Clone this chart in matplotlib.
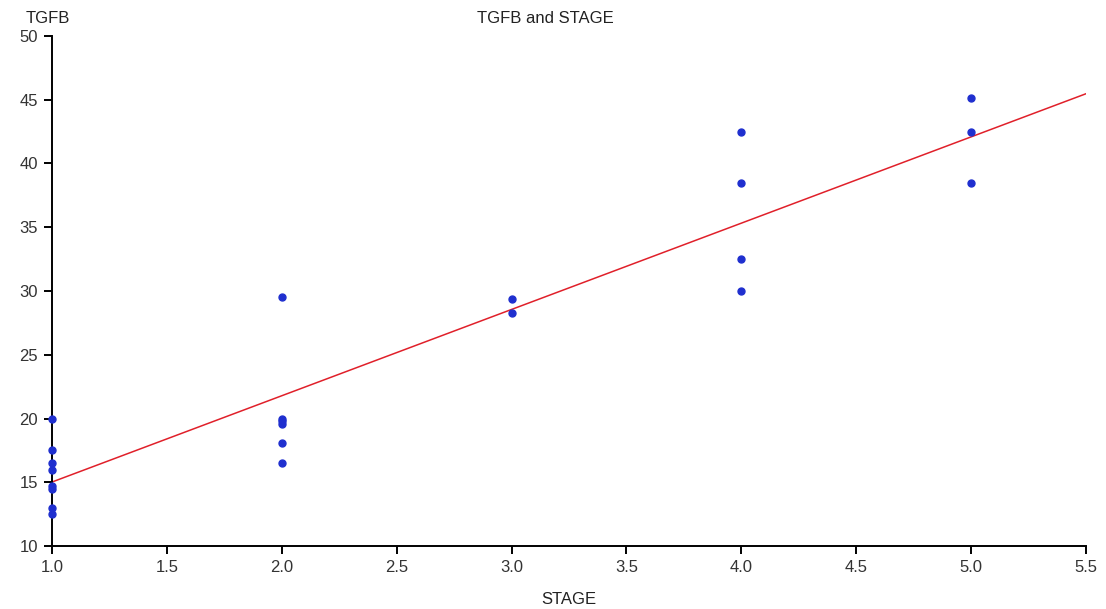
import matplotlib
matplotlib.use('Agg')
import matplotlib.pyplot as plt
import numpy as np

plt.rcParams['font.family'] = ['Liberation Sans', 'DejaVu Sans']

# TGFB readings per tumour stage
stage = [1, 1, 1, 1, 1, 1, 1, 1,
         2, 2, 2, 2, 2, 2,
         3, 3,
         4, 4, 4, 4,
         5, 5, 5]
tgfb = [20.0, 17.5, 16.5, 16.0, 14.7, 14.5, 13.0, 12.5,
        29.5, 20.0, 19.8, 19.6, 18.1, 16.5,
        29.4, 28.3,
        42.5, 38.5, 32.5, 30.0,
        45.1, 42.5, 38.5]

x_ticks = [1.0, 1.5, 2.0, 2.5, 3.0, 3.5, 4.0, 4.5, 5.0, 5.5]
y_ticks = [10, 15, 20, 25, 30, 35, 40, 45, 50]

slope, intercept = np.polyfit(stage, tgfb, 1)
line_x = np.array([x_ticks[0], x_ticks[-1]])

fig = plt.figure(figsize=(11.06, 6.09), dpi=100)
ax = fig.add_axes([0.047, 0.1034, 0.935, 0.8376])

ax.plot(line_x, slope * line_x + intercept, color='#e0202a', linewidth=1.1, zorder=2)
ax.plot(stage, tgfb, 'o', color='#1f2fcf', markersize=5, zorder=3, clip_on=False)

ax.set_xlim(x_ticks[0], x_ticks[-1])
ax.set_ylim(y_ticks[0], y_ticks[-1])
ax.set_xticks(x_ticks)
ax.set_xticklabels([f'{v:.1f}' for v in x_ticks])
ax.set_yticks(y_ticks)

for side in ('top', 'right'):
    ax.spines[side].set_visible(False)
for side in ('left', 'bottom'):
    ax.spines[side].set_linewidth(1.4)
ax.tick_params(direction='out', length=6, width=1.4, labelsize=12,
               labelcolor='#333333', pad=4)

ax.set_xlabel('STAGE', fontsize=12, color='#222222', labelpad=12)
fig.text(0.0235, 0.982, 'TGFB', fontsize=12, color='#222222', va='top', ha='left')
fig.text(0.493, 0.982, 'TGFB and STAGE', fontsize=12, color='#222222',
         va='top', ha='center')

fig.savefig('out.png', dpi=100)
